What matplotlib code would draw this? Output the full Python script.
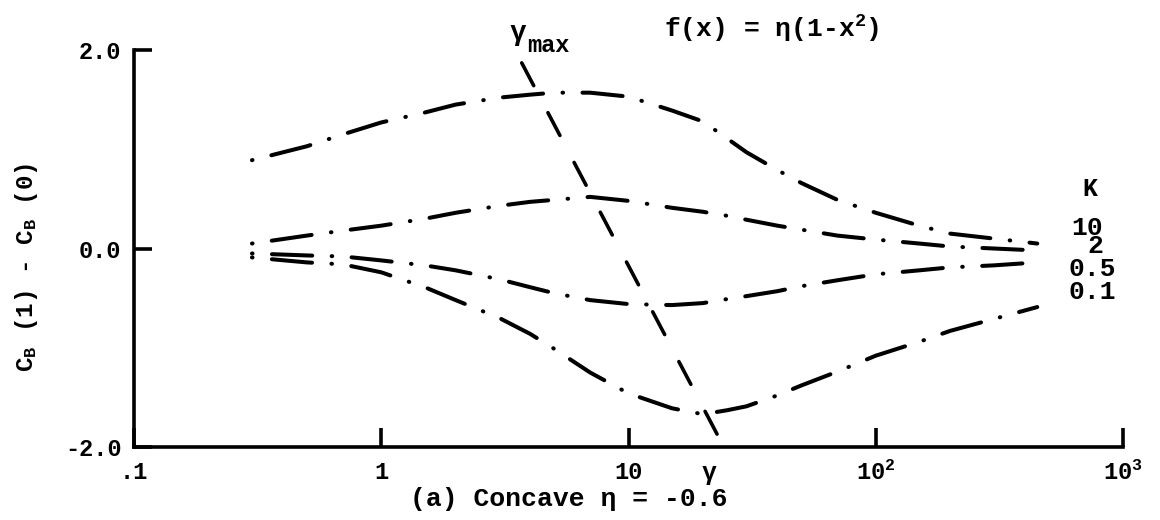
import matplotlib
matplotlib.use("Agg")
import matplotlib.pyplot as plt
from matplotlib.ticker import NullLocator, FixedLocator, FixedFormatter

plt.rcParams["font.family"] = ["Liberation Mono", "DejaVu Sans Mono"]
plt.rcParams["font.weight"] = "bold"
plt.rcParams["mathtext.fontset"] = "custom"
plt.rcParams["mathtext.rm"] = "Liberation Mono:bold"
plt.rcParams["mathtext.it"] = "Liberation Mono:bold"
plt.rcParams["mathtext.bf"] = "Liberation Mono:bold"
plt.rcParams["lines.scale_dashes"] = False

# Reduced frequency gamma and C_B(1) - C_B(0) for each K
gamma = [0.3, 0.5, 0.7, 1, 1.5, 2, 3, 4, 5, 7, 10, 15, 20, 25, 30, 40, 50,
         70, 100, 150, 200, 300, 450]
k10 = [0.89, 1.03, 1.15, 1.27, 1.37, 1.45, 1.52, 1.55, 1.57, 1.57, 1.53, 1.39,
       1.28, 1.11, 0.97, 0.79, 0.66, 0.49, 0.36, 0.23, 0.15, 0.10, 0.05]
k2 = [0.05, 0.13, 0.18, 0.23, 0.30, 0.36, 0.43, 0.47, 0.49, 0.52, 0.48, 0.41,
      0.37, 0.33, 0.29, 0.23, 0.19, 0.13, 0.09, 0.05, 0.02, 0.00, -0.02]
k05 = [-0.05, -0.07, -0.08, -0.12, -0.17, -0.22, -0.31, -0.39, -0.45, -0.52,
       -0.56, -0.57, -0.55, -0.51, -0.48, -0.43, -0.38, -0.32, -0.26, -0.22,
       -0.19, -0.17, -0.14]
k01 = [-0.09, -0.14, -0.16, -0.24, -0.39, -0.52, -0.70, -0.86, -1.01, -1.25,
       -1.46, -1.61, -1.67, -1.63, -1.59, -1.48, -1.38, -1.24, -1.08, -0.94,
       -0.83, -0.71, -0.59]
curves = [k10, k2, k05, k01]
k_labels = ["10", "2", "0.5", "0.1"]

# Locus of the extrema (gamma_max)
ymax_gamma = [3.7, 23.6]
ymax_val = [1.87, -1.94]

x_ticks = [0.1, 1, 10, 100, 1000]
x_ticklabels = [".1", "1", "10", "10$^2$", "10$^3$"]
y_ticks = [-2.0, 0.0, 2.0]
y_ticklabels = ["-2.0", "0.0", "2.0"]

W, H = 1160, 520
fig = plt.figure(figsize=(W / 100, H / 100), dpi=100)
ax = fig.add_axes([134 / W, 1 - 447 / H, (1123 - 134) / W, (447 - 50) / H])
ax.set_xscale("log")
ax.set_xlim(0.1, 1000)
ax.set_ylim(-2.0, 2.0)

dashdot = (0, (0.4, 14.0, 29.0, 14.0))
for vals in curves:
    ax.plot(gamma, vals, color="black", lw=2.9, linestyle=dashdot,
            dash_capstyle="round", solid_capstyle="round", clip_on=False)

ax.plot(ymax_gamma, ymax_val, color="black", lw=2.6,
        linestyle=(0, (18.5, 22.0)), dash_capstyle="round", clip_on=False)

for side in ("top", "right"):
    ax.spines[side].set_visible(False)
for side in ("left", "bottom"):
    ax.spines[side].set_linewidth(2.6)

ax.xaxis.set_major_locator(FixedLocator(x_ticks))
ax.xaxis.set_major_formatter(FixedFormatter(x_ticklabels))
ax.xaxis.set_minor_locator(NullLocator())
ax.yaxis.set_major_locator(FixedLocator(y_ticks))
ax.yaxis.set_major_formatter(FixedFormatter(y_ticklabels))
ax.tick_params(axis="x", direction="in", length=14, width=2.6, pad=10,
               labelsize=17)
ax.tick_params(axis="y", direction="in", length=13, width=2.6, pad=9,
               labelsize=17)
for lab in ax.get_xticklabels() + ax.get_yticklabels():
    lab.set_fontweight("bold")


def ftext(px, py, s, **kw):
    kw.setdefault("ha", "center")
    kw.setdefault("va", "center")
    kw.setdefault("fontsize", 17)
    kw.setdefault("fontweight", "bold")
    fig.text(px / W, 1 - py / H, s, **kw)


ftext(27, 267, "C$_B$ (1) - C$_B$ (0)", rotation=90, fontsize=17.5)
ftext(709, 473, "γ", fontsize=18)
ftext(569, 499, "(a) Concave η = -0.6", fontsize=19)
ftext(772, 29, "f(x) = η(1-x$^2$)", fontsize=19)
ftext(518, 33, "γ", fontsize=20)
ftext(548, 45, "max", fontsize=17)

ftext(1090, 189, "K", fontsize=18)
label_pos = [(1087, 228), (1095, 246), (1092, 269), (1092, 292)]
for (px, py), lab in zip(label_pos, k_labels):
    ftext(px, py, lab, fontsize=19)

fig.savefig("out.png", dpi=100)
